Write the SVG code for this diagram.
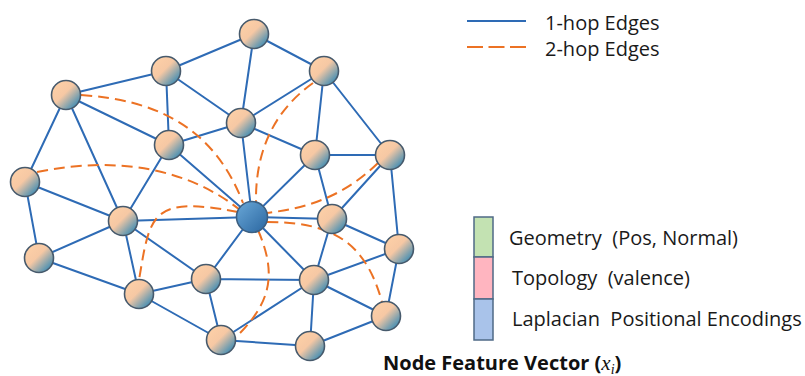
<svg xmlns="http://www.w3.org/2000/svg" width="805" height="376" viewBox="0 0 805 376">
<style>
.e{stroke:#2E6BB5;stroke-width:2;fill:none}
.d{stroke:#EC7224;stroke-width:2;fill:none;stroke-dasharray:11 6}
.n{fill:url(#g);stroke:#475A6C;stroke-width:1.6}
.c{fill:url(#gc);stroke:#3D5F80;stroke-width:1.6}
.t{font-family:"Open Sans","Noto Sans",sans-serif;font-size:20px;fill:#1a1a1a;white-space:pre}
.b{font-family:"Open Sans","Noto Sans",sans-serif;font-size:20px;font-weight:bold;fill:#111}
</style>
<defs>
<linearGradient id="g" x1="0" y1="0" x2="1" y2="1">
<stop offset="0" stop-color="#FFD2A8"/>
<stop offset="0.45" stop-color="#F6C8A4"/>
<stop offset="1" stop-color="#0A7BB8"/>
</linearGradient>
<linearGradient id="gc" x1="0" y1="0" x2="1" y2="1">
<stop offset="0" stop-color="#6AA8D8"/>
<stop offset="1" stop-color="#2A66A0"/>
</linearGradient>
</defs>
<g id="connectors">
<g id="edges1">
<path class="e" d="M254,34L166,71M254,34L324,71M254,34L241,123M166,71L66,95M166,71L169,145M166,71L241,123M324,71L241,123M324,71L315,155M324,71L390,155M66,95L169,145M66,95L25,182M66,95L123,221M241,123L169,145M241,123L315,155M241,123L252,217M169,145L252,217M169,145L123,221M315,155L390,155M315,155L252,217M315,155L332,219M390,155L332,219M390,155L399,249M25,182L123,221M25,182L39,258M123,221L252,217M123,221L39,258M123,221L206,279M123,221L139,294M252,217L332,219M252,217L206,279M252,217L314,280M332,219L399,249M332,219L314,280M39,258L139,294M399,249L314,280M399,249L386,316M206,279L314,280M206,279L139,294M206,279L221,340M314,280L386,316M314,280L221,340M314,280L310,346M139,294L221,340M386,316L310,346M221,340L310,346"/>
</g>
<g id="edges2">
<path class="d" d="M81,95C160,100 215,130 243,203"/>
<path class="d" d="M37,172C120,155 190,170 240,210"/>
<path class="d" d="M313,83C275,110 255,150 256,203"/>
<path class="d" d="M378,163C345,195 310,208 266,213"/>
<path class="d" d="M238,212C150,195 150,215 139,280"/>
<path class="d" d="M258,230C275,270 275,300 235,338"/>
<path class="d" d="M267,222C330,222 365,240 382,302"/>
</g>
</g>
<g id="nodes">
<circle id="n1" class="n" cx="254" cy="34" r="14.5"/>
<circle id="n2" class="n" cx="166" cy="71" r="14.5"/>
<circle id="n3" class="n" cx="324" cy="71" r="14.5"/>
<circle id="n4" class="n" cx="66" cy="95" r="14.5"/>
<circle id="n5" class="n" cx="241" cy="123" r="14.5"/>
<circle id="n6" class="n" cx="169" cy="145" r="14.5"/>
<circle id="n7" class="n" cx="315" cy="155" r="14.5"/>
<circle id="n8" class="n" cx="390" cy="155" r="14.5"/>
<circle id="n9" class="n" cx="25" cy="182" r="14.5"/>
<circle id="n10" class="n" cx="123" cy="221" r="14.5"/>
<circle id="center" class="c" cx="252" cy="217" r="15.5"/>
<circle id="n11" class="n" cx="332" cy="219" r="14.5"/>
<circle id="n12" class="n" cx="39" cy="258" r="14.5"/>
<circle id="n13" class="n" cx="399" cy="249" r="14.5"/>
<circle id="n14" class="n" cx="206" cy="279" r="14.5"/>
<circle id="n15" class="n" cx="314" cy="280" r="14.5"/>
<circle id="n16" class="n" cx="139" cy="294" r="14.5"/>
<circle id="n17" class="n" cx="386" cy="316" r="14.5"/>
<circle id="n18" class="n" cx="221" cy="340" r="14.5"/>
<circle id="n19" class="n" cx="310" cy="346" r="14.5"/>
</g>
<g id="legend">
<line x1="467" y1="21" x2="526" y2="21" stroke="#2E6BB5" stroke-width="2"/>
<text class="t" x="545" y="30">1-hop Edges</text>
<line x1="467" y1="47" x2="526" y2="47" stroke="#EC7224" stroke-width="2" stroke-dasharray="16 5.5"/>
<text class="t" x="545" y="56">2-hop Edges</text>
</g>
<g id="feature-vector">
<rect x="474" y="217" width="19" height="40" fill="#C3E2B2" stroke="#4F6A86" stroke-width="1.5"/>
<rect x="474" y="257" width="19" height="42" fill="#FFB5C0" stroke="#4F6A86" stroke-width="1.5"/>
<rect x="474" y="299" width="19" height="41" fill="#A9C3EA" stroke="#4F6A86" stroke-width="1.5"/>
<text class="t" x="509" y="245">Geometry  (Pos, Normal)</text>
<text class="t" x="512" y="285">Topology  (valence)</text>
<text class="t" x="512" y="326">Laplacian  Positional Encodings</text>
<text class="b" x="383" y="370">Node Feature Vector (<tspan font-family="'Liberation Serif',serif" font-style="italic" font-weight="normal" font-size="21">x</tspan><tspan font-family="'Liberation Serif',serif" font-style="italic" font-weight="normal" font-size="14" dy="4">i</tspan><tspan dy="-4">)</tspan></text>
</g>
</svg>
